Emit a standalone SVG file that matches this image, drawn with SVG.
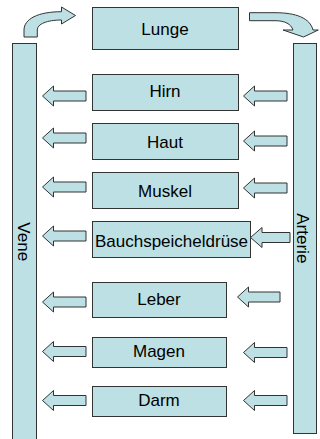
<svg xmlns="http://www.w3.org/2000/svg" width="320" height="439" viewBox="0 0 320 439">
  <style>
    .shape { fill: #bce0e4; stroke: #333333; stroke-width: 1; }
    .label { font-family: "Liberation Sans", Arial, sans-serif; font-size: 17px; fill: #000000; text-anchor: middle; }
  </style>
  <rect width="320" height="439" fill="#ffffff"/>

  <!-- vessels -->
  <g id="vene">
    <rect class="shape" x="12.5" y="43.5" width="24" height="400"/>
    <text class="label" transform="translate(17.5,241.7) rotate(90)">Vene</text>
  </g>
  <g id="arterie">
    <rect class="shape" x="293.5" y="43.5" width="23" height="390"/>
    <text class="label" transform="translate(296.5,238.3) rotate(90)">Arterie</text>
  </g>

  <!-- organs -->
  <g id="lunge">
    <rect class="shape" x="92.5" y="7.5" width="146" height="42"/>
    <text class="label" x="165" y="35">Lunge</text>
  </g>
  <g id="hirn">
    <rect class="shape" x="92.5" y="74.5" width="146" height="36"/>
    <text class="label" x="165" y="97">Hirn</text>
  </g>
  <g id="haut">
    <rect class="shape" x="92.5" y="123.5" width="146" height="36"/>
    <text class="label" x="165" y="148">Haut</text>
  </g>
  <g id="muskel">
    <rect class="shape" x="92.5" y="172.5" width="146" height="36"/>
    <text class="label" x="165" y="197">Muskel</text>
  </g>
  <g id="bauchspeicheldruese">
    <rect class="shape" x="92.5" y="221.5" width="158" height="36"/>
    <text class="label" x="171.5" y="246.5">Bauchspeicheldrüse</text>
  </g>
  <g id="leber">
    <rect class="shape" x="92.5" y="282.5" width="134" height="35"/>
    <text class="label" x="159" y="305">Leber</text>
  </g>
  <g id="magen">
    <rect class="shape" x="92.5" y="337.5" width="134" height="30"/>
    <text class="label" x="159" y="357">Magen</text>
  </g>
  <g id="darm">
    <rect class="shape" x="92.5" y="386.5" width="134" height="30"/>
    <text class="label" x="159" y="406">Darm</text>
  </g>

  <!-- connectors: block arrows -->
  <g id="connectors">
    <!-- vene to lunge, curved -->
    <path class="shape" d="M24,37 L24,30 C24,19 38,11.7 61.5,11.7 L61.5,7 L75.5,15.5 L61.5,24 L61.5,20 C47,20 37.3,24 37.3,30 L37.3,37 Z"/>
    <!-- lunge to arterie, curved -->
    <path class="shape" d="M249.5,12.7 L275,12.7 C296,12.7 310,18 313,30 L318.3,30 L303.5,37 L283,30 L293,30 C291,24 285,20.7 275,20.7 L249.5,20.7 Z"/>

    <!-- organ to vene -->
    <path class="shape" d="M42.5,96 L53.5,86 L53.5,91 L86,91 L86,101 L53.5,101 L53.5,106 Z"/>
    <path class="shape" d="M42.5,138 L53.5,128 L53.5,133 L86,133 L86,143 L53.5,143 L53.5,148 Z"/>
    <path class="shape" d="M42.5,187 L53.5,177 L53.5,182 L86,182 L86,192 L53.5,192 L53.5,197 Z"/>
    <path class="shape" d="M42.5,236 L53.5,226 L53.5,231 L86,231 L86,241 L53.5,241 L53.5,246 Z"/>
    <path class="shape" d="M42.5,302 L53.5,292 L53.5,297 L86,297 L86,307 L53.5,307 L53.5,312 Z"/>
    <path class="shape" d="M42.5,351.5 L53.5,341.5 L53.5,346.5 L86,346.5 L86,356.5 L53.5,356.5 L53.5,361.5 Z"/>
    <path class="shape" d="M42.5,400.5 L53.5,390.5 L53.5,395.5 L86,395.5 L86,405.5 L53.5,405.5 L53.5,410.5 Z"/>

    <!-- arterie to organ -->
    <path class="shape" d="M243.5,96 L254.5,86 L254.5,91 L287,91 L287,101 L254.5,101 L254.5,106 Z"/>
    <path class="shape" d="M243.5,141 L254.5,131 L254.5,136 L287,136 L287,146 L254.5,146 L254.5,151 Z"/>
    <path class="shape" d="M243.5,188 L254.5,178 L254.5,183 L287,183 L287,193 L254.5,193 L254.5,198 Z"/>
    <path class="shape" d="M250.5,237.5 L262,227.5 L262,232.5 L290,232.5 L290,242.5 L262,242.5 L262,247.5 Z"/>
    <path class="shape" d="M237.5,297 L248.5,287 L248.5,292 L280,292 L280,302 L248.5,302 L248.5,307 Z"/>
    <path class="shape" d="M243.5,352.5 L254.5,342.5 L254.5,347.5 L287,347.5 L287,357.5 L254.5,357.5 L254.5,362.5 Z"/>
    <path class="shape" d="M243.5,400.5 L254.5,390.5 L254.5,395.5 L287,395.5 L287,405.5 L254.5,405.5 L254.5,410.5 Z"/>
  </g>
</svg>
